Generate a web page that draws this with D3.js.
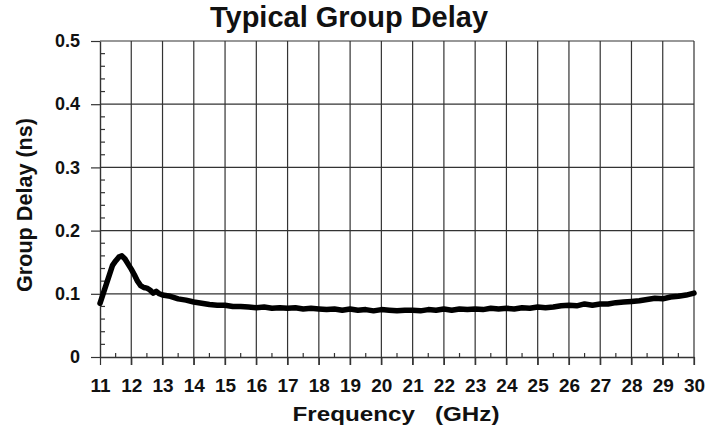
<!DOCTYPE html>
<html>
<head>
<meta charset="utf-8">
<script src="https://cdn.jsdelivr.net/npm/d3@7"></script>
<style>
  body { margin: 0; background: #fff; }
  svg { display: block; font-family: "Liberation Sans", Arial, sans-serif; }
</style>
</head>
<body>
<div id="chart"></div>
<script>
// Group delay trace (GHz, ns)
const freq = [
  11, 11.1, 11.2, 11.3, 11.4, 11.5, 11.6, 11.7, 11.8, 11.9, 12.0,
  12.1, 12.2, 12.3, 12.4, 12.5, 12.6, 12.7, 12.8, 12.9, 13.0,
  13.25, 13.5, 13.75, 14, 14.25, 14.5, 14.75, 15, 15.25, 15.5, 15.75,
  16, 16.25, 16.5, 16.75, 17, 17.25, 17.5, 17.75, 18, 18.25, 18.5, 18.75,
  19, 19.25, 19.5, 19.75, 20, 20.25, 20.5, 20.75, 21, 21.25, 21.5, 21.75,
  22, 22.25, 22.5, 22.75, 23, 23.25, 23.5, 23.75, 24, 24.25, 24.5, 24.75,
  25, 25.25, 25.5, 25.75, 26, 26.25, 26.5, 26.75, 27, 27.25, 27.5, 27.75,
  28, 28.25, 28.5, 28.75, 29, 29.25, 29.5, 29.75, 30
];
const delay = [
  0.085, 0.100, 0.115, 0.130, 0.145, 0.152, 0.158, 0.160, 0.155, 0.147, 0.139,
  0.130, 0.120, 0.113, 0.110, 0.109, 0.106, 0.101, 0.104, 0.100, 0.098,
  0.096, 0.092, 0.090, 0.087, 0.085, 0.083, 0.082, 0.082, 0.080, 0.080, 0.079,
  0.078, 0.079, 0.077, 0.078, 0.077, 0.078, 0.076, 0.077, 0.076, 0.075, 0.076, 0.074,
  0.076, 0.074, 0.075, 0.073, 0.075, 0.074, 0.073, 0.074, 0.074, 0.073, 0.075, 0.074,
  0.076, 0.074, 0.076, 0.075, 0.076, 0.075, 0.077, 0.076, 0.077, 0.076, 0.078, 0.077,
  0.079, 0.078, 0.079, 0.081, 0.082, 0.081, 0.084, 0.082, 0.084, 0.084, 0.086, 0.087,
  0.088, 0.089, 0.091, 0.093, 0.092, 0.095, 0.096, 0.098, 0.101
];
const xTicks = d3.range(11, 31, 1);
const yTicks = [0, 0.1, 0.2, 0.3, 0.4, 0.5];
const yTickLabels = ["0", "0.1", "0.2", "0.3", "0.4", "0.5"];

const W = 723, H = 434;
const m = { top: 41, right: 29, bottom: 77, left: 100 };

const svg = d3.select("#chart").append("svg")
  .attr("width", W).attr("height", H);

const x = d3.scaleLinear().domain([11, 30]).range([m.left, W - m.right]);
const y = d3.scaleLinear().domain([0, 0.5]).range([H - m.bottom, m.top]);

// grid
svg.append("g").selectAll("line").data(yTicks.slice(1)).join("line")
  .attr("x1", m.left).attr("x2", W - m.right)
  .attr("y1", d => y(d)).attr("y2", d => y(d))
  .attr("stroke", "#333").attr("stroke-width", 1.2);
svg.append("g").selectAll("line").data(xTicks.slice(1)).join("line")
  .attr("x1", d => x(d)).attr("x2", d => x(d))
  .attr("y1", m.top).attr("y2", H - m.bottom + 8)
  .attr("stroke", "#333").attr("stroke-width", 1.2);

// minor ticks (inside)
svg.append("g").selectAll("line").data(d3.range(11.5, 30, 1)).join("line")
  .attr("x1", d => x(d)).attr("x2", d => x(d))
  .attr("y1", H - m.bottom - 4).attr("y2", H - m.bottom)
  .attr("stroke", "#333").attr("stroke-width", 1.2);
svg.append("g").selectAll("line")
  .data(d3.range(0.02, 0.5, 0.02).filter(v => Math.abs(v * 10 - Math.round(v * 10)) > 0.01))
  .join("line")
  .attr("x1", m.left).attr("x2", m.left + 5)
  .attr("y1", d => y(d)).attr("y2", d => y(d))
  .attr("stroke", "#333").attr("stroke-width", 1.2);

// axes
const xAxis = svg.append("g").attr("transform", `translate(0,${H - m.bottom})`)
  .call(d3.axisBottom(x).tickValues(xTicks).tickSize(8).tickSizeOuter(0).tickPadding(14));
const yAxis = svg.append("g").attr("transform", `translate(${m.left},0)`)
  .call(d3.axisLeft(y).tickValues(yTicks).tickSize(9).tickSizeOuter(0).tickPadding(11)
    .tickFormat((d, i) => yTickLabels[i]));
[xAxis, yAxis].forEach(a => {
  a.select(".domain").attr("stroke", "#333").attr("stroke-width", 1.4);
  a.selectAll(".tick line").attr("stroke", "#333").attr("stroke-width", 1.2);
  a.selectAll("text").attr("fill", "#111").attr("font-weight", "bold")
    .attr("font-family", "'Liberation Sans', Arial, sans-serif");
});
xAxis.selectAll("text").attr("font-size", 19);
yAxis.selectAll("text").attr("font-size", 18);

// trace
svg.append("path")
  .datum(freq.map((f, i) => [f, delay[i]]))
  .attr("fill", "none").attr("stroke", "#000").attr("stroke-width", 5.5)
  .attr("stroke-linejoin", "round").attr("stroke-linecap", "round")
  .attr("d", d3.line().x(d => x(d[0])).y(d => y(d[1])));

// titles
svg.append("text").attr("x", 349).attr("y", 27).attr("text-anchor", "middle")
  .attr("font-size", 29).attr("font-weight", "bold").attr("fill", "#111")
  .attr("textLength", 278).attr("lengthAdjust", "spacingAndGlyphs")
  .text("Typical Group Delay");
svg.append("text").attr("x", 396).attr("y", 421).attr("text-anchor", "middle")
  .attr("font-size", 21).attr("font-weight", "bold").attr("fill", "#111")
  .attr("textLength", 207).attr("lengthAdjust", "spacingAndGlyphs")
  .style("white-space", "pre")
  .text("Frequency   (GHz)");
svg.append("text").attr("transform", "translate(32,205) rotate(-90)")
  .attr("text-anchor", "middle")
  .attr("font-size", 22).attr("font-weight", "bold").attr("fill", "#111")
  .attr("textLength", 174).attr("lengthAdjust", "spacingAndGlyphs")
  .text("Group Delay (ns)");
</script>
</body>
</html>
